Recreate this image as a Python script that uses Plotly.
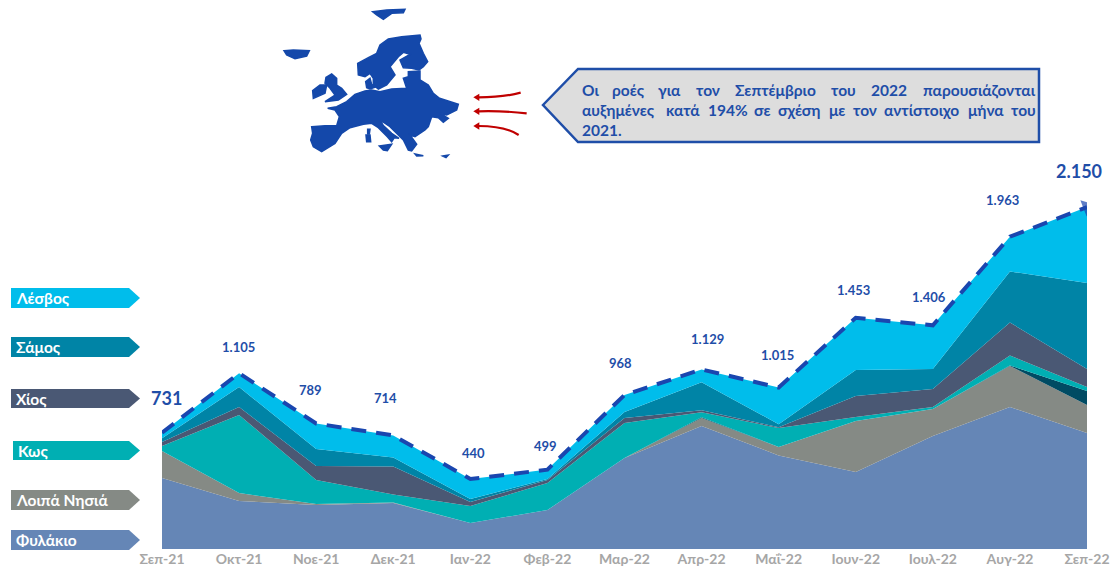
import plotly.graph_objects as go

# ---------- data ----------
months = ["Σεπ-21","Οκτ-21","Νοε-21","Δεκ-21","Ιαν-22","Φεβ-22","Μαρ-22","Απρ-22","Μαΐ-22","Ιουν-22","Ιουλ-22","Αυγ-22","Σεπ-22"]
fylakio = [446,302,277,289,163,245,572,773,588,484,710,893,729]
loipa   = [170,50,6,3,0,0,0,50,53,321,170,258,176]
other   = [0,0,0,0,0,0,0,6,0,0,0,3,88]
kos     = [31,490,151,50,107,170,220,31,119,25,13,63,25]
chios   = [25,50,88,176,25,19,31,13,6,132,113,207,113]
samos   = [25,126,107,57,19,6,38,176,19,163,126,321,541]
lesvos  = [34,87,160,139,126,59,107,80,230,328,274,218,478]
totals  = [731,1105,789,714,440,499,968,1129,1015,1453,1406,1963,2150]
total_labels = ["731","1.105","789","714","440","499","968","1.129","1.015","1.453","1.406","1.963","2.150"]

series_names = ["Φυλάκιο","Λοιπά Νησιά","Άλλο","Κως","Χίος","Σάμος","Λέσβος"]
series_vals = [fylakio, loipa, other, kos, chios, samos, lesvos]
series_cols = ["#6586B6","#858A85","#004B63","#00AFB3","#4A5874","#0084A6","#00BDEB"]

# ---------- page geometry ----------
W, H = 1113, 577
L, R, B, T = 162, 1087, 549, 180
FONT = "Lato, 'Noto Sans', 'Open Sans', sans-serif"
BLUE = "#1F4EA8"

def px(x): return (x - L) / (R - L)
def py(y): return (B - y) / (B - T)

fig = go.Figure()
for name, vals, col in zip(series_names, series_vals, series_cols):
    fig.add_trace(go.Scatter(x=months, y=vals, name=name, stackgroup="one", mode="lines",
                             line=dict(width=0, color=col), fillcolor=col, showlegend=False))
fig.add_trace(go.Scatter(x=months, y=totals, mode="lines+markers", showlegend=False,
                         line=dict(color="#1A46AF", width=4, dash="15px,10px"),
                         marker=dict(symbol="triangle-up", angleref="previous", color="#1A46AF",
                                     size=[0]*12 + [15], line=dict(width=0))))

# ---------- total labels ----------
shifts = [(4,35,18),(-1,26,13),(-6,33,13),(-8,37,13),(3,26,13),(-2,24,13),(-4,32,13),(6,30,13),(-1,33,13),(-2,28,13),(-4,28,13),(-7,37,13),(-8,36,18)]
annotations = []
for m, v, t, (dx, dy, s) in zip(months, totals, total_labels, shifts):
    annotations.append(dict(x=m, y=v, xref="x", yref="y", text=f"<b>{t}</b>", showarrow=False,
                            xshift=dx, yshift=dy, font=dict(family=FONT, size=s, color=BLUE)))

def page_text(x, y, text, size, color, anchor="left"):
    annotations.append(dict(x=px(x), y=py(y), xref="paper", yref="paper", text=f"<b>{text}</b>",
                            showarrow=False, xanchor=anchor, yanchor="middle",
                            font=dict(family=FONT, size=size, color=color)))

# ---------- left-hand chips ----------
shapes = []
def poly(points, fill, line=None, lw=0):
    d = "M " + " L ".join(f"{px(a):.5f},{py(b):.5f}" for a, b in points) + " Z"
    shapes.append(dict(type="path", xref="paper", yref="paper", path=d, fillcolor=fill,
                       line=dict(color=line or fill, width=lw), layer="above"))

chips = [("Λέσβος",11,288,308,"#00BDEB"),("Σάμος",11,337,357,"#0084A6"),("Χίος",11,389,408,"#4A5874"),
         ("Κως",13,441,460,"#00AFB3"),("Λοιπά Νησιά",11,490,510,"#858A85"),("Φυλάκιο",11,530,550,"#6586B6")]
for name, x0, y0, y1, col in chips:
    poly([(x0,y0),(129,y0),(140,(y0+y1)/2),(129,y1),(x0,y1)], col)
    page_text(x0+3, (y0+y1)/2, name, 15.5, "white")

# ---------- callout ----------
poly([(543,105),(578,69),(1039,69),(1039,142),(578,142)], "#DDDDDD", BLUE, 2.5)
line1 = [("Οι",580),("ροές",610),("για",656),("τον",694),("Σεπτέμβριο",733),("του",829),("2022",869)]
line2 = [("αυξημένες",580),("κατά",664),("194%",706),("σε",752),("σχέση",776),("με",827),("τον",851),("αντίστοιχο",882),("μήνα",966)]
for w, x in line1: page_text(x, 90, w, 15.5, BLUE)
page_text(1038, 90, "παρουσιάζονται", 15.5, BLUE, "right")
for w, x in line2: page_text(x, 110, w, 15.5, BLUE)
page_text(1038, 110, "του", 15.5, BLUE, "right")
page_text(580, 130, "2021.", 15.5, BLUE)

# ---------- Europe silhouette (decoration) ----------
MAP = "#1448AA"
def z(points): return [(270 + a/3, b/3) for a, b in points]
def a(points): return [(345 + u/3, 25 + v/3) for u, v in points]
def b(points): return [(300 + u/3, 85 + v/3) for u, v in points]

main = (b([(35,125),(75,122),(110,122),(118,95),(105,75),(83,70),(110,65),(140,50),(165,28),(195,18),(215,15),(240,20),(275,12),(320,10)])
        + a([(175,160),(190,155),(190,140),(225,138),(225,165),(250,180),(265,205),(290,225)])
        + b([(405,35),(435,45),(475,58),(470,75),(440,90),(420,85),(445,100),(430,112),(415,98),(395,95),(385,125),(375,135),
             (345,155),(330,150),(350,178),(335,198),(325,195),(310,165),(295,150),(270,125),(240,105),(250,122),(275,145),
             (297,160),(283,158),(275,170),(262,155),(235,128),(215,115),(190,118),(150,128),(125,145),(105,175),(65,200),
             (40,185),(32,165),(38,145)]))
scand = a([(38,115),(70,98),(95,85),(105,60),(130,42),(170,35),(225,30),(228,42),(222,55),(235,85),(248,110),(235,125),(222,135),
           (200,130),(175,128),(165,105),(195,88),(175,82),(160,95),(135,125),(150,150),(125,180),(100,192),(85,180),(85,160),(75,145),(60,155),(40,150)])
denmark = a([(62,170),(75,160),(80,178),(95,185),(75,192),(65,188)])
uk = z([(168,232),(185,222),(200,235),(200,255),(215,265),(230,283),(205,300),(165,305),(195,285),(178,262),(165,250)])
ireland = z([(128,272),(150,255),(170,255),(165,280),(130,295)])
iceland = z([(42,152),(70,150),(118,152),(110,168),(75,176),(50,165)])
svalbard = z([(308,35),(350,30),(405,28),(400,38),(365,40),(340,58),(320,45)])
corsica = b([(203,133),(210,133),(208,147),(203,147)])
sardinia = b([(198,150),(210,150),(212,170),(200,170)])
sicily = b([(238,183),(275,178),(262,197),(250,195)])
crete = b([(345,207),(370,212),(350,213)])
cyprus = b([(428,213),(445,210),(438,218)])
for shp in [main, scand, denmark, uk, ireland, iceland, svalbard, corsica, sardinia, sicily, crete, cyprus]:
    poly(shp, MAP, MAP, 1.5)

# ---------- red arrows (decoration) ----------
RED = "#C00000"
curves = [((752,278),(700,292),(625,292)),((770,340),(700,332),(625,334)),((746,405),(705,378),(625,378))]
for (s, c, e) in curves:
    (ax,ay),(cx,cy),(ex,ey) = z([s,c,e])
    shapes.append(dict(type="path", xref="paper", yref="paper", layer="above",
                       path=f"M {px(ax):.5f},{py(ay):.5f} Q {px(cx):.5f},{py(cy):.5f} {px(ex):.5f},{py(ey):.5f}",
                       line=dict(color=RED, width=2.2)))
    poly(z([(e[0]+3,e[1]-11),(610,e[1]),(e[0]+3,e[1]+11)]), RED)

fig.update_layout(
    width=W, height=H, autosize=False,
    margin=dict(l=L, r=W-R, t=T, b=H-B, pad=0, autoexpand=False),
    paper_bgcolor="white", plot_bgcolor="white",
    showlegend=False, annotations=annotations, shapes=shapes,
    font=dict(family=FONT),
    xaxis=dict(type="category", categoryorder="array", categoryarray=months, range=[0,12],
               showgrid=False, zeroline=False, showline=False, ticks="", tickangle=0,
               tickmode="array", tickvals=months, ticktext=[f"<b>{m}</b>" for m in months],
               tickfont=dict(family=FONT, size=14, color="#A6A6A6")),
    yaxis=dict(range=[0,(B-T)/0.15907], visible=False, showgrid=False, zeroline=False),
)
fig.write_html("out.html", post_script="document.body.style.margin='0';document.body.style.overflow='hidden';",
               config=dict(displayModeBar=False))
